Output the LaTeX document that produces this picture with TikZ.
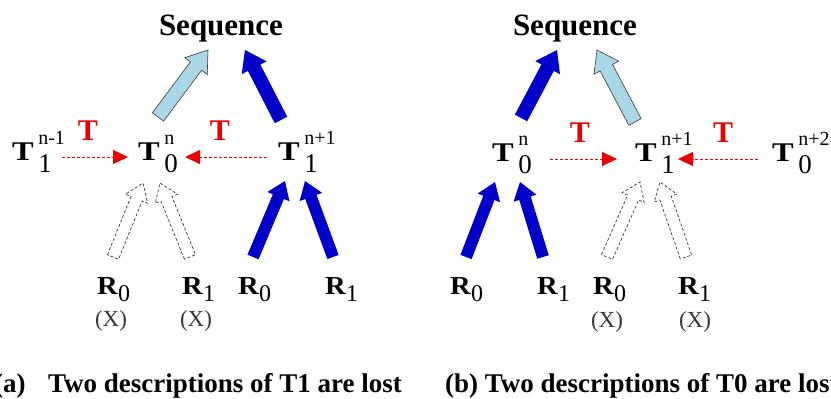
\documentclass[tikz,border=0pt]{standalone}
\usepackage{fontspec}
\setmainfont{Liberation Serif}
\usetikzlibrary{arrows.meta,calc}
\definecolor{tred}{RGB}{235,0,0}
\definecolor{dblue}{RGB}{0,0,200}
\definecolor{lblue}{RGB}{170,215,232}
\definecolor{dgray}{RGB}{55,55,55}
% T with stacked sub- and superscript, R with subscript
\newcommand{\Tsym}[2]{\scalebox{1.2}[1]{\textbf{T}}\,\raisebox{-12pt}{\makebox[0pt][l]{\fontsize{27}{30}\selectfont #1}}\raisebox{16pt}{\fontsize{20}{20}\selectfont #2}}
\newcommand{\Rsym}[1]{\scalebox{1.1}[1]{\textbf{R}}\raisebox{-7pt}{\fontsize{24}{28}\selectfont #1}}
% wide block arrow from #2 to #3 (half widths \bashaft, \bahead)
\def\bashaft{6pt}\def\bahead{12pt}\def\balen{17pt}
\newcommand{\blockarrow}[3][]{%
  \coordinate (ba-s) at (#2);
  \coordinate (ba-e) at (#3);
  \coordinate (ba-h) at ($(ba-e)!\balen!(ba-s)$);
  \path[#1] ($(ba-s)!\bashaft!90:(ba-e)$) -- ($(ba-h)!\bashaft!90:(ba-e)$)
    -- ($(ba-h)!\bahead!90:(ba-e)$) -- (ba-e) -- ($(ba-h)!\bahead!-90:(ba-e)$)
    -- ($(ba-h)!\bashaft!-90:(ba-e)$) -- ($(ba-s)!\bashaft!-90:(ba-e)$) -- cycle;}

\begin{document}
\begin{tikzpicture}[
  x=1pt, y=-1pt,
  seq/.style={font=\fontsize{31}{36}\selectfont\bfseries,anchor=base,inner sep=0pt},
  tvar/.style={font=\fontsize{27}{30}\selectfont,anchor=base west,inner sep=0pt},
  rvar/.style={font=\fontsize{26}{30}\selectfont,anchor=base west,inner sep=0pt},
  lost/.style={font=\fontsize{23}{26}\selectfont,text=dgray,inner sep=0pt},
  tlbl/.style={font=\fontsize{30}{32}\selectfont\bfseries,text=tred,inner sep=0pt},
  caption/.style={font=\fontsize{27}{30}\selectfont\bfseries,anchor=base west,inner sep=0pt},
  tarr/.style={tred,dash pattern=on 3pt off 2pt,line width=0.8pt,-{Triangle[length=15pt,width=14pt]}},
  fullarr/.style={fill=dblue},
  halfarr/.style={fill=lblue,draw=dgray,line width=0.6pt},
  lostarr/.style={fill=white,draw=dgray,dash pattern=on 3pt off 2pt,line width=0.7pt}]
  \useasboundingbox (0,0) rectangle (831,399);

  % (a) T1 lost
  \node[seq] (sa) at (221,35) {Sequence};
  \node[tvar] (ta1) at (12,160) {\Tsym{1}{n-1}};
  \node[tvar] (ta0) at (138,160) {\Tsym{0}{n}};
  \node[tvar] (ta2) at (278,160) {\Tsym{1}{n+1}};
  \node[tlbl] (la0) at (88,131) {T};
  \node[tlbl] (la1) at (220,131) {T};
  \node[rvar] (ra0) at (97,294) {\Rsym{0}};
  \node[rvar] (ra1) at (182,294) {\Rsym{1}};
  \node[rvar] (ra2) at (238,294) {\Rsym{0}};
  \node[rvar] (ra3) at (325,294) {\Rsym{1}};
  \node[lost] (xa0) at (111,321) {(X)};
  \node[lost] (xa1) at (196,321) {(X)};
  \node[caption] (capa0) at (-6,392) {(a)};
  \node[caption] (capa) at (48,392) {Two descriptions of T1 are lost};

  \draw[tarr] ([shift={(50,-3)}]ta1.base west) -- ([shift={(-10,-3)}]ta0.base west);
  \draw[tarr] ([shift={(-11,-3)}]ta2.base west) -- ([shift={(47,-3)}]ta0.base west);
  \def\bashaft{7pt}\def\bahead{14pt}\def\balen{20pt}
  \blockarrow[halfarr]{[shift={(20,-43)}]ta0.base west}{[shift={(-13,15)}]sa.base}
  \blockarrow[fullarr]{[shift={(3,-40)}]ta2.base west}{[shift={(24,15)}]sa.base}
  \def\bashaft{6pt}\def\bahead{12pt}\def\balen{17pt}
  \blockarrow[lostarr]{[shift={(16,-37)}]ra0.base west}{[shift={(5,23)}]ta0.base west}
  \blockarrow[lostarr]{[shift={(8,-37)}]ra1.base west}{[shift={(22,23)}]ta0.base west}
  \blockarrow[fullarr]{[shift={(15,-37)}]ra2.base west}{[shift={(7,21)}]ta2.base west}
  \blockarrow[fullarr]{[shift={(8,-37)}]ra3.base west}{[shift={(27,21)}]ta2.base west}

  % (b) T0 lost
  \node[seq] (sb) at (575,35) {Sequence};
  \node[tvar] (tb0) at (492,161) {\Tsym{0}{n}};
  \node[tvar] (tb1) at (635,161) {\Tsym{1}{n+1}};
  \node[tvar] (tb2) at (772,161) {\Tsym{0}{n+2}};
  \node[tlbl] (lb0) at (580,133) {T};
  \node[tlbl] (lb1) at (723,133) {T};
  \node[rvar] (rb0) at (450,294) {\Rsym{0}};
  \node[rvar] (rb1) at (537,294) {\Rsym{1}};
  \node[rvar] (rb2) at (593,294) {\Rsym{0}};
  \node[rvar] (rb3) at (678,294) {\Rsym{1}};
  \node[lost] (xb0) at (607,322) {(X)};
  \node[lost] (xb1) at (695,322) {(X)};
  \node[caption] (capb) at (445,392) {(b) Two descriptions of T0 are lost};

  \draw[tarr] ([shift={(58,-2)}]tb0.base west) -- ([shift={(-18,-2)}]tb1.base west);
  \draw[tarr] ([shift={(-14,-2)}]tb2.base west) -- ([shift={(43,-2)}]tb1.base west);
  \def\bashaft{7pt}\def\bahead{14pt}\def\balen{20pt}
  \blockarrow[fullarr]{[shift={(29,-43)}]tb0.base west}{[shift={(-18,15)}]sb.base}
  \blockarrow[halfarr]{[shift={(0,-39)}]tb1.base west}{[shift={(22,15)}]sb.base}
  \def\bashaft{6pt}\def\bahead{12pt}\def\balen{17pt}
  \blockarrow[fullarr]{[shift={(16,-37)}]rb0.base west}{[shift={(3,21)}]tb0.base west}
  \blockarrow[fullarr]{[shift={(6,-37)}]rb1.base west}{[shift={(28,21)}]tb0.base west}
  \blockarrow[lostarr]{[shift={(14,-37)}]rb2.base west}{[shift={(5,21)}]tb1.base west}
  \blockarrow[lostarr]{[shift={(8,-37)}]rb3.base west}{[shift={(25,21)}]tb1.base west}
\end{tikzpicture}
\end{document}
